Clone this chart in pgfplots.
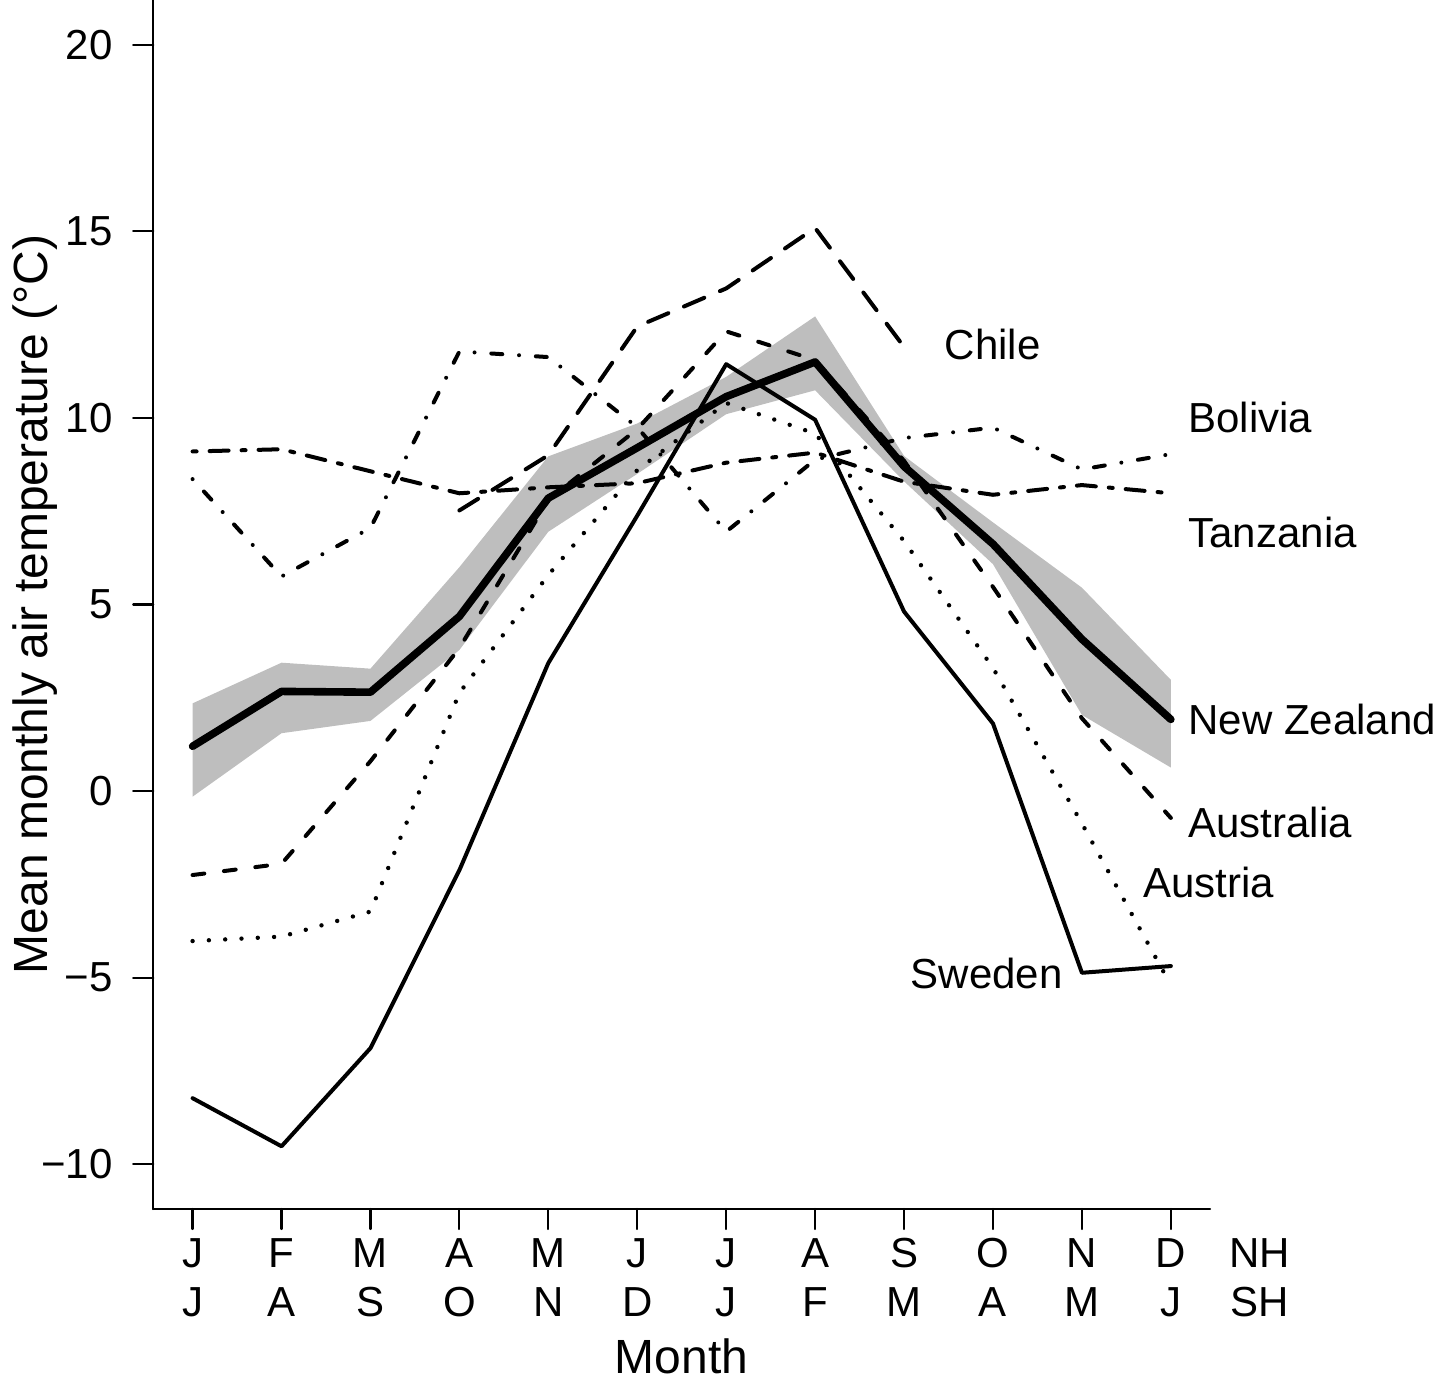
\documentclass[border=0pt]{standalone}
\usepackage{fontspec}
\setmainfont{Liberation Sans}
\usepackage{pgfplots}
\pgfplotsset{compat=1.18}
\definecolor{band}{RGB}{190,190,190}
\newcommand{\lab}{\fontsize{10.5}{12.6}\selectfont}
\newcommand{\ttl}{\fontsize{12}{14}\selectfont}

\begin{document}
\begin{tikzpicture}
\useasboundingbox (-38.3pt,-43.25pt) rectangle (321.7pt,302.25pt);
\begin{axis}[
  at={(0,0)}, anchor=south west,
  scale only axis, width=264.2pt, height=302.25pt,
  xmin=0.557, xmax=12.44, ymin=-11.2, ymax=21.2,
  clip=false,
  axis x line*=bottom, axis y line*=left,
  axis line style={-, line width=0.55pt, black},
  xtick={1,2,3,4,5,6,7,8,9,10,11,12}, xticklabels={},
  ytick={-10,-5,0,5,10,15,20},
  yticklabels={−10,−5,0,5,10,15,20},
  tick align=outside, major tick length=5pt,
  tick style={line width=0.55pt, black},
  yticklabel style={font=\lab, anchor=east, inner sep=0pt, xshift=-5pt},
  ylabel={Mean monthly air temperature (°C)},
  ylabel style={font=\ttl, at={(axis description cs:-0.112,0.5)}, anchor=center},
  xlabel={Month},
  xlabel style={font=\ttl, at={(axis description cs:0.5,-0.1357)}, anchor=base},
  line cap=round, line join=round,
]
% confidence band New Zealand
\addplot[fill=band, draw=none] coordinates {
 (1,2.35) (2,3.44) (3,3.28) (4,6.0) (5,8.97) (6,9.85) (7,11.1) (8,12.72) (9,8.98) (10,7.2) (11,5.45) (12,2.98)
 (12,0.63) (11,2.04) (10,6.08) (9,8.3) (8,10.74) (7,10.1) (6,8.5) (5,6.95) (4,3.78) (3,1.88) (2,1.55) (1,-0.15)
} -- cycle;
% Chile (long dash)
\addplot[black, line width=1.0pt, dash pattern=on 5.5pt off 4.25pt] coordinates {
 (4,7.52) (5,9.0) (6,12.45) (7,13.47) (8,15.09) (9,11.9)
};
% Bolivia (dot dash)
\addplot[black, line width=1.0pt, dash pattern=on 0pt off 4.2pt on 2.75pt off 4.2pt] coordinates {
 (1,8.36) (2,5.75) (3,7.05) (4,11.78) (5,11.63) (6,9.75) (7,6.95) (8,8.88) (9,9.46) (10,9.74) (11,8.62) (12,9.03)
};
% Tanzania (two dash)
\addplot[black, line width=1.0pt, dash pattern=on 1.0pt off 3.25pt on 4.75pt off 3.25pt] coordinates {
 (1,9.1) (2,9.16) (3,8.57) (4,7.98) (5,8.14) (6,8.25) (7,8.8) (8,9.07) (9,8.29) (10,7.94) (11,8.2) (12,7.98)
};
% Australia (dashed)
\addplot[black, line width=1.0pt, dash pattern=on 2.95pt off 4.95pt] coordinates {
 (1,-2.25) (2,-1.95) (3,0.8) (4,3.83) (5,7.8) (6,9.7) (7,12.32) (8,11.55) (9,8.85) (10,5.47) (11,1.95) (12,-0.72)
};
% Austria (dotted)
\addplot[black, line width=1.1pt, dash pattern=on 0pt off 4.08pt] coordinates {
 (1,-4.02) (2,-3.9) (3,-3.23) (4,2.63) (5,5.79) (6,8.6) (7,10.4) (8,9.58) (9,6.7) (10,3.3) (11,-0.87) (12,-5.2)
};
% Sweden (thin solid)
\addplot[black, line width=1.0pt] coordinates {
 (1,-8.23) (2,-9.52) (3,-6.89) (4,-2.12) (5,3.43) (6,7.38) (7,11.44) (8,9.95) (9,4.81) (10,1.81) (11,-4.87) (12,-4.69)
};
% New Zealand (thick solid)
\addplot[black, line width=1.9pt] coordinates {
 (1,1.2) (2,2.67) (3,2.65) (4,4.68) (5,7.85) (6,9.2) (7,10.57) (8,11.5) (9,8.7) (10,6.62) (11,4.07) (12,1.92)
};
% country labels
\node[font=\lab, anchor=west, inner sep=0pt] at (axis cs:9.45,11.96) {Chile};
\node[font=\lab, anchor=west, inner sep=0pt] at (axis cs:12.19,10.0) {Bolivia};
\node[font=\lab, anchor=west, inner sep=0pt] at (axis cs:12.19,6.92) {Tanzania};
\node[font=\lab, anchor=west, inner sep=0pt] at (axis cs:12.19,1.93) {New Zealand};
\node[font=\lab, anchor=west, inner sep=0pt] at (axis cs:12.19,-0.83) {Australia};
\node[font=\lab, anchor=west, inner sep=0pt] at (axis cs:11.68,-2.44) {Austria};
\node[font=\lab, anchor=east, inner sep=0pt] at (axis cs:10.79,-4.88) {Sweden};
% month tick labels (NH row, SH row)
\node[font=\lab, anchor=base] at (axis cs:1,-12.76) {J};
\node[font=\lab, anchor=base] at (axis cs:2,-12.76) {F};
\node[font=\lab, anchor=base] at (axis cs:3,-12.76) {M};
\node[font=\lab, anchor=base] at (axis cs:4,-12.76) {A};
\node[font=\lab, anchor=base] at (axis cs:5,-12.76) {M};
\node[font=\lab, anchor=base] at (axis cs:6,-12.76) {J};
\node[font=\lab, anchor=base] at (axis cs:7,-12.76) {J};
\node[font=\lab, anchor=base] at (axis cs:8,-12.76) {A};
\node[font=\lab, anchor=base] at (axis cs:9,-12.76) {S};
\node[font=\lab, anchor=base] at (axis cs:10,-12.76) {O};
\node[font=\lab, anchor=base] at (axis cs:11,-12.76) {N};
\node[font=\lab, anchor=base] at (axis cs:12,-12.76) {D};
\node[font=\lab, anchor=base] at (axis cs:13,-12.76) {NH};
\node[font=\lab, anchor=base] at (axis cs:1,-14.09) {J};
\node[font=\lab, anchor=base] at (axis cs:2,-14.09) {A};
\node[font=\lab, anchor=base] at (axis cs:3,-14.09) {S};
\node[font=\lab, anchor=base] at (axis cs:4,-14.09) {O};
\node[font=\lab, anchor=base] at (axis cs:5,-14.09) {N};
\node[font=\lab, anchor=base] at (axis cs:6,-14.09) {D};
\node[font=\lab, anchor=base] at (axis cs:7,-14.09) {J};
\node[font=\lab, anchor=base] at (axis cs:8,-14.09) {F};
\node[font=\lab, anchor=base] at (axis cs:9,-14.09) {M};
\node[font=\lab, anchor=base] at (axis cs:10,-14.09) {A};
\node[font=\lab, anchor=base] at (axis cs:11,-14.09) {M};
\node[font=\lab, anchor=base] at (axis cs:12,-14.09) {J};
\node[font=\lab, anchor=base] at (axis cs:13,-14.09) {SH};
\end{axis}
\end{tikzpicture}
\end{document}
